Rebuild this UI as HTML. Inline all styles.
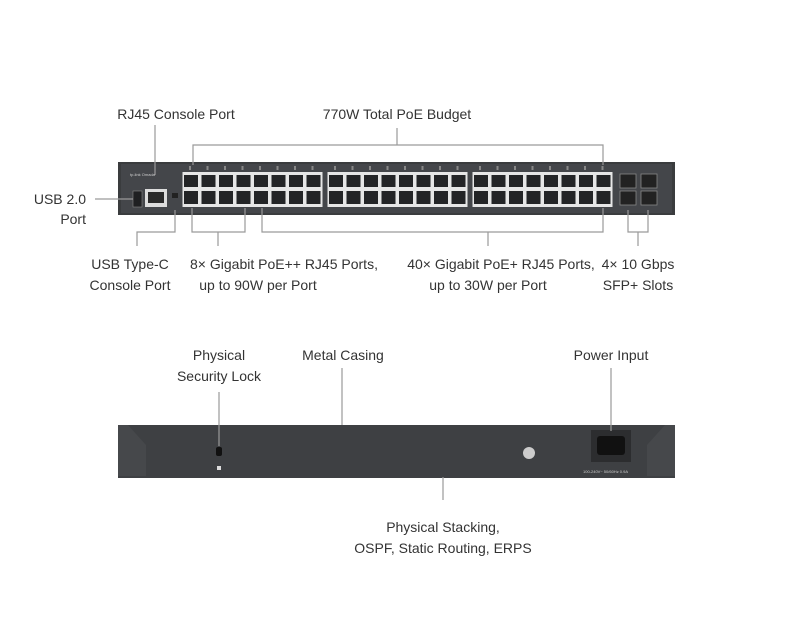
<!DOCTYPE html>
<html><head><meta charset="utf-8"><style>
html,body{margin:0;padding:0;background:#fff;}
svg{display:block}
text{font-family:"Liberation Sans",sans-serif;font-size:14px;fill:#333;}
</style></head><body>
<svg id="s" width="800" height="640" viewBox="0 0 800 640" xmlns="http://www.w3.org/2000/svg">
<rect width="800" height="640" fill="#fff"/>
<rect x="118" y="162" width="557" height="53" fill="#3a3c3e"/>
<rect x="121" y="164" width="551" height="49" fill="#44464a"/>
<g id="ports"></g>
<rect x="133" y="191" width="9" height="16" fill="#1f2022" stroke="#888" stroke-width="0.6"/>
<rect x="145" y="189" width="22" height="18" fill="#ddd"/>
<rect x="148" y="192" width="16" height="11" fill="#2a2a2a"/>
<rect x="172" y="193" width="6" height="5" fill="#222"/>
<text x="130" y="176" style="font-size:4px;fill:#ccc">tp-link Omada</text>
<rect x="118" y="425" width="557" height="53" fill="#3e4043"/>
<polygon points="118,425 128,425 146,445 146,476 118,476" fill="#46484b"/>
<polygon points="675,425 665,425 647,445 647,476 675,476" fill="#46484b"/>
<rect x="216" y="447" width="6" height="9" rx="2" fill="#111"/>
<rect x="217" y="466" width="4" height="4" fill="#ddd"/>
<circle cx="529" cy="453" r="6" fill="#ccc"/>
<rect x="591" y="430" width="40" height="32" fill="#2c2d2f"/>
<rect x="597" y="436" width="28" height="19" rx="3" fill="#111"/>
<text x="583" y="473" style="font-size:4px;fill:#ccc">100-240V~ 50/60Hz 0.9A</text>
<g stroke="#9a9a9a" stroke-width="1.2" fill="none">
<path d="M155 125V175"/>
<path d="M397 128V145M193 165V145H603V165"/>
<path d="M95 199H133"/>
<path d="M137 246V232H175V210"/>
<path d="M192 208V232H245V208M218 232V246"/>
<path d="M262 208V232H603V208M488 232V246"/>
<path d="M628 210V232H648V210M638 232V246"/>
<path d="M219 392V446"/>
<path d="M342 368V425"/>
<path d="M611 368V431"/>
<path d="M443 477V500"/>
</g>
<text x="176" y="119" text-anchor="middle">RJ45 Console Port</text>
<text x="397" y="119" text-anchor="middle">770W Total PoE Budget</text>
<text x="86" y="204" text-anchor="end">USB 2.0</text>
<text x="86" y="224" text-anchor="end">Port</text>
<text x="130" y="269" text-anchor="middle">USB Type-C</text>
<text x="130" y="290" text-anchor="middle">Console Port</text>
<text x="284" y="269" text-anchor="middle">8× Gigabit PoE++ RJ45 Ports,</text>
<text x="258" y="290" text-anchor="middle">up to 90W per Port</text>
<text x="501" y="269" text-anchor="middle">40× Gigabit PoE+ RJ45 Ports,</text>
<text x="488" y="290" text-anchor="middle">up to 30W per Port</text>
<text x="638" y="269" text-anchor="middle">4× 10 Gbps</text>
<text x="638" y="290" text-anchor="middle">SFP+ Slots</text>
<text x="219" y="360" text-anchor="middle">Physical</text>
<text x="219" y="381" text-anchor="middle">Security Lock</text>
<text x="343" y="360" text-anchor="middle">Metal Casing</text>
<text x="611" y="360" text-anchor="middle">Power Input</text>
<text x="443" y="532" text-anchor="middle">Physical Stacking,</text>
<text x="443" y="553" text-anchor="middle">OSPF, Static Routing, ERPS</text>
</svg>
<script>
var g=document.getElementById('ports'),h='';
var starts=[183,328,473],p=17.5;
starts.forEach(function(sx){
 h+='<rect x="'+(sx-0.5)+'" y="172" width="'+(8*p)+'" height="35" fill="#e6e6e6"/>';
 for(var i=0;i<8;i++){var x=sx+i*p;
  h+='<rect x="'+(x+1)+'" y="175" width="14" height="12" fill="#232426"/>';
  h+='<rect x="'+(x+1)+'" y="191" width="14" height="13" fill="#232426"/>';
  h+='<rect x="'+(x+6)+'" y="166" width="2" height="4" fill="#888"/>';
 }
});
for(var c=0;c<2;c++){var x=620+c*21;
 h+='<rect x="'+x+'" y="174" width="16" height="14" fill="#222" stroke="#888" stroke-width="0.8"/>';
 h+='<rect x="'+x+'" y="191" width="16" height="14" fill="#222" stroke="#888" stroke-width="0.8"/>';
}
g.innerHTML=h;
</script>
</body></html>
